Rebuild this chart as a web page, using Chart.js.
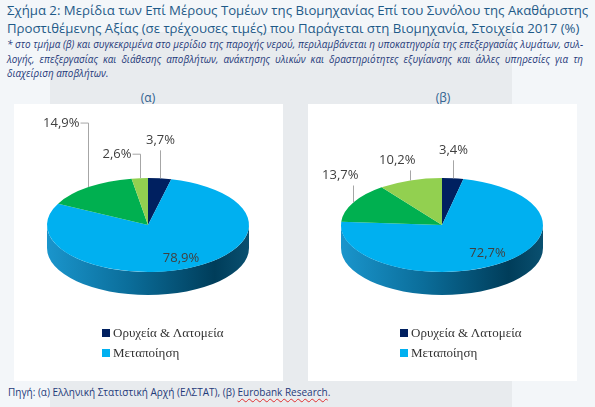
<!DOCTYPE html>
<html>
<head>
<meta charset="utf-8">
<script src="https://cdn.jsdelivr.net/npm/chart.js@4.4.0/dist/chart.umd.min.js"></script>
<style>
  html, body { margin: 0; padding: 0; }
  body { width: 595px; height: 407px; background: #f3f6f9; position: relative; overflow: hidden; font-family: "Open Sans", sans-serif; }
  #grey { position: absolute; left: 50px; top: 32px; width: 462px; height: 375px; background: #e8ebee; }
  #title { position: absolute; left: 7px; top: 1px; width: 590px; font-size: 13.2px; line-height: 18px; color: #1f5a88; white-space: nowrap; }
  .note { position: absolute; left: 7px; width: 576px; font-size: 9.9px; font-style: italic; color: #1f3a7a; white-space: nowrap; }
  .just { text-align: justify; text-align-last: justify; }
  .panel { position: absolute; top: 89px; width: 40px; text-align: center; font-size: 12px; color: #2f5f8e; }
  .box { position: absolute; top: 104px; width: 269px; height: 277px; background: #fff; }
  .box canvas { position: absolute; left: 0; top: 0; }
  .legend { position: absolute; font-family: "Liberation Serif", serif; font-size: 13px; color: #333; }
  .legend div { height: 20px; line-height: 20px; white-space: nowrap; }
  .legend span { display: inline-block; width: 8px; height: 8px; margin-right: 3px; vertical-align: 0px; }
  #source { position: absolute; left: 8px; top: 385px; font-size: 10px; color: #1f3a7a; white-space: nowrap; }
  #source u { text-decoration: underline wavy #e03030; text-decoration-thickness: 1px; text-underline-offset: 2px; }
</style>
</head>
<body>
<div id="grey"></div>
<div id="title">Σχήμα 2: Μερίδια των Επί Μέρους Τομέων της Βιομηχανίας Επί του Συνόλου της Ακαθάριστης<br>Προστιθέμενης Αξίας (σε τρέχουσες τιμές) που Παράγεται στη Βιομηχανία, Στοιχεία 2017 (%)</div>
<div class="note just" style="top:37px">* στο τμήμα (β) και συγκεκριμένα στο μερίδιο της παροχής νερού, περιλαμβάνεται η υποκατηγορία της επεξεργασίας λυμάτων, συλ-</div>
<div class="note just" style="top:52px">λογής, επεξεργασίας και διάθεσης αποβλήτων, ανάκτησης υλικών και δραστηριότητες εξυγίανσης και άλλες υπηρεσίες για τη</div>
<div class="note" style="top:66px">διαχείριση αποβλήτων.</div>

<div class="panel" style="left:128px">(α)</div>
<div class="panel" style="left:423px">(β)</div>

<div class="box" style="left:14px"><canvas id="pieA" width="269" height="277"></canvas><div class="legend" id="legendA" style="left:88px;top:219px"></div></div>
<div class="box" style="left:308px"><canvas id="pieB" width="269" height="277"></canvas><div class="legend" id="legendB" style="left:92px;top:219px"></div></div>

<div id="source">Πηγή: (α) Ελληνική Στατιστική Αρχή (ΕΛΣΤΑΤ), (β) <u>Eurobank Research</u>.</div>

<script>
// sectors, clockwise from 12 o'clock
const categories = ["Ορυχεία & Λατομεία", "Μεταποίηση", "Παροχή Ηλεκτρικού Ρεύματος", "Παροχή Νερού*"];
const valuesA = [3.7, 78.9, 14.9, 2.6];
const valuesB = [3.4, 72.7, 13.7, 10.2];
const colors = ["#002060", "#00b0f0", "#00b050", "#92d050"];
const legendCount = 2; // the original legend only lists the first two sectors

// label placement per sector (style only)
const labelsA = [{ mode: "top", lift: 28 }, { mode: "in", frac: 0.78 }, { mode: "side", lift: 64 }, { mode: "side", lift: 24 }];
const labelsB = [{ mode: "top", lift: 18 }, { mode: "in", frac: 0.75 }, { mode: "topRight", lift: 17 }, { mode: "topRight", lift: 10 }];

const TILT = 0.465;
const DEPTH = 23;

function fmt(v) {
  return v.toFixed(1).replace(".", ",") + "%";
}

// squashes the pie into an ellipse and adds a side wall
const pie3d = {
  id: "pie3d",
  beforeDatasetsDraw(chart) {
    const el = chart.getDatasetMeta(0).data[0];
    const ctx = chart.ctx;
    const cx = el.x, cy = el.y, r = el.outerRadius, ry = r * TILT;

    const grad = ctx.createLinearGradient(cx - r, 0, cx + r, 0);
    grad.addColorStop(0, "#1a95cc");
    grad.addColorStop(0.4, "#0b6e9b");
    grad.addColorStop(0.83, "#003d5a");
    grad.addColorStop(1, "#0a5070");

    ctx.save();
    ctx.beginPath();
    ctx.ellipse(cx, cy + DEPTH, r, ry, 0, 0, Math.PI);
    ctx.lineTo(cx - r, cy);
    ctx.ellipse(cx, cy, r, ry, 0, Math.PI, 0, true);
    ctx.closePath();
    ctx.fillStyle = grad;
    ctx.fill();
    ctx.restore();

    ctx.save();
    ctx.translate(cx, cy);
    ctx.scale(1, TILT);
    ctx.translate(-cx, -cy);
  },
  afterDatasetsDraw(chart, args, opts) {
    const ctx = chart.ctx;
    ctx.restore();

    const meta = chart.getDatasetMeta(0);
    const values = chart.data.datasets[0].data;
    ctx.save();
    ctx.font = "13px 'Open Sans'";
    ctx.fillStyle = "#404040";
    ctx.strokeStyle = "#a6a6a6";
    ctx.lineWidth = 1;
    ctx.textBaseline = "middle";
    meta.data.forEach((el, i) => {
      const cfg = opts.labels[i];
      const a = (el.startAngle + el.endAngle) / 2;
      const r = el.outerRadius, ry = r * TILT;
      const text = fmt(values[i]);
      if (cfg.mode === "in") {
        ctx.textAlign = "center";
        ctx.fillText(text, el.x + cfg.frac * r * Math.cos(a), el.y + cfg.frac * ry * Math.sin(a));
        return;
      }
      const x = Math.round(el.x + r * Math.cos(a)) + 0.5;
      const y = el.y + ry * Math.sin(a);
      const top = y - cfg.lift;
      ctx.beginPath();
      ctx.moveTo(x, y);
      ctx.lineTo(x, top);
      if (cfg.mode === "side") {
        ctx.lineTo(x - 8, top);
        ctx.stroke();
        ctx.textAlign = "right";
        ctx.fillText(text, x - 9, top);
      } else if (cfg.mode === "topRight") {
        ctx.stroke();
        ctx.textAlign = "right";
        ctx.fillText(text, x + 5, top - 10);
      } else {
        ctx.stroke();
        ctx.textAlign = "center";
        ctx.fillText(text, x, top - 10);
      }
    });
    ctx.restore();
  }
};

function makePie(id, values, labelCfg) {
  return new Chart(document.getElementById(id), {
    type: "pie",
    data: {
      labels: categories,
      datasets: [{
        data: values,
        backgroundColor: colors,
        borderWidth: 0
      }]
    },
    options: {
      responsive: false,
      animation: false,
      events: [],
      layout: { padding: { left: 33, right: 34, top: 20, bottom: 55 } },
      plugins: {
        legend: { display: false },
        tooltip: { enabled: false },
        pie3d: { labels: labelCfg }
      }
    },
    plugins: [pie3d]
  });
}

function makeLegend(id) {
  const box = document.getElementById(id);
  categories.slice(0, legendCount).forEach((name, i) => {
    const row = document.createElement("div");
    row.innerHTML = `<span style="background:${colors[i]}"></span>${name}`;
    box.appendChild(row);
  });
}

makePie("pieA", valuesA, labelsA);
makePie("pieB", valuesB, labelsB);
makeLegend("legendA");
makeLegend("legendB");
</script>
</body>
</html>
